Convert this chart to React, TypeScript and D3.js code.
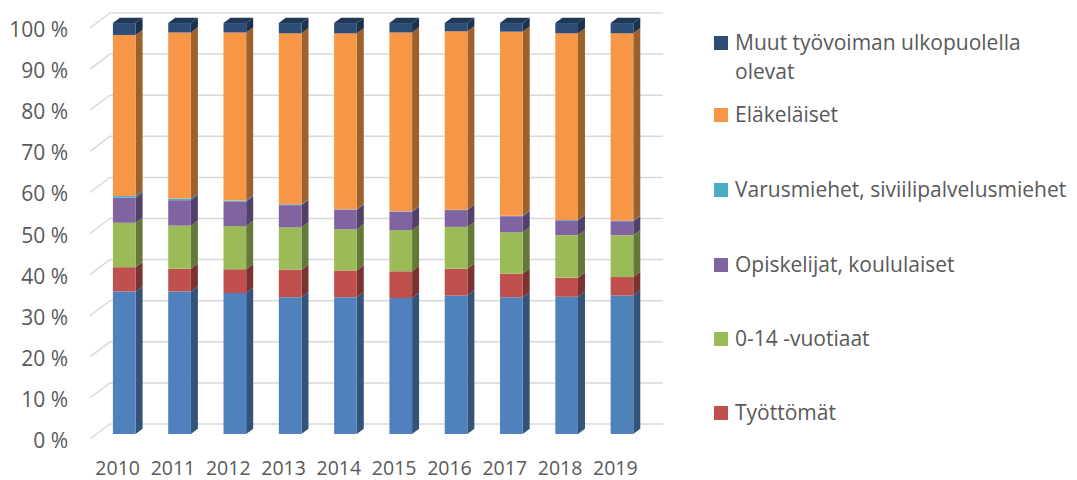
import React from 'react';
import * as d3 from 'd3';

const years = ['2010', '2011', '2012', '2013', '2014', '2015', '2016', '2017', '2018', '2019'];

// osuudet väestöstä, %
const tyolliset = [34.7, 34.7, 34.3, 33.3, 33.3, 33.1, 33.7, 33.3, 33.4, 33.7];
const tyottomat = [5.9, 5.5, 5.8, 6.7, 6.5, 6.5, 6.5, 5.7, 4.6, 4.5];
const vuotiaat = [10.8, 10.5, 10.5, 10.3, 10.0, 10.0, 10.2, 10.1, 10.4, 10.2];
const opiskelijat = [6.1, 6.2, 5.9, 5.4, 4.8, 4.5, 4.1, 3.9, 3.6, 3.4];
const varusmiehet = [0.4, 0.4, 0.3, 0.2, 0.1, 0.1, 0.1, 0.1, 0.1, 0.1];
const elakelaiset = [39.2, 40.4, 40.9, 41.6, 42.8, 43.5, 43.4, 44.8, 45.4, 45.6];
const muut = [2.9, 2.3, 2.3, 2.5, 2.5, 2.3, 2.0, 2.1, 2.5, 2.5];

const yTicks = [0, 10, 20, 30, 40, 50, 60, 70, 80, 90, 100];

const series = [
  { key: 'tyolliset', name: 'Työlliset', values: tyolliset, color: '#4F81BD', legend: false },
  { key: 'tyottomat', name: 'Työttömät', values: tyottomat, color: '#C0504D', legend: true },
  { key: 'vuotiaat', name: '0-14 -vuotiaat', values: vuotiaat, color: '#9BBB59', legend: true },
  { key: 'opiskelijat', name: 'Opiskelijat, koululaiset', values: opiskelijat, color: '#8064A2', legend: true },
  { key: 'varusmiehet', name: 'Varusmiehet, siviilipalvelusmiehet', values: varusmiehet, color: '#4BACC6', legend: true },
  { key: 'elakelaiset', name: 'Eläkeläiset', values: elakelaiset, color: '#F79646', legend: true },
  { key: 'muut', name: 'Muut työvoiman ulkopuolella|olevat', values: muut, color: '#2C4D75', legend: true },
];

const W = 1077;
const H = 480;
const FONT = '"Open Sans", "DejaVu Sans", sans-serif';
const TEXT = '#595959';

// 3D projection: full floor depth
const DX = 20;
const DY = -15;
const D1 = 0.33;
const D2 = 0.68;

const rows = years.map((yr, i) => {
  const r: any = { year: yr };
  series.forEach(s => { r[s.key] = s.values[i]; });
  return r;
});

const App: React.FC = () => {
  const x = d3.scaleBand<string>()
    .domain(years)
    .range([90, 643])
    .paddingInner(0.59)
    .paddingOuter(0.295);

  const y = d3.scaleLinear().domain([0, 100]).range([439, 28]);

  const stacked = d3.stack<any>().keys(series.map(s => s.key))(rows);

  const pt = (px: number, v: number, d: number) => `${px + DX * d},${y(v) + DY * d}`;

  const bars: React.ReactNode[] = [];
  stacked.forEach((layer, si) => {
    const s = series[si];
    const front = s.color;
    const side = d3.rgb(s.color).darker(1.25).formatHex();
    const top = d3.rgb(s.color).darker(0.9).formatHex();
    layer.forEach((seg, i) => {
      const x0 = x(years[i]) as number;
      const x1 = x0 + x.bandwidth();
      const [v0, v1] = seg;
      bars.push(
        <g key={`${s.key}-${i}`}>
          <polygon points={[pt(x1, v0, D1), pt(x1, v0, D2), pt(x1, v1, D2), pt(x1, v1, D1)].join(' ')} fill={side} />
          <polygon points={[pt(x0, v0, D1), pt(x1, v0, D1), pt(x1, v1, D1), pt(x0, v1, D1)].join(' ')} fill={front} />
          {si === series.length - 1 && (
            <polygon points={[pt(x0, v1, D1), pt(x1, v1, D1), pt(x1, v1, D2), pt(x0, v1, D2)].join(' ')} fill={top} />
          )}
        </g>
      );
    });
  });

  const legendItems = series.filter(s => s.legend).reverse();
  const legendY = [50, 122, 197, 272, 346, 420];

  return (
    <div style={{ position: 'absolute', left: 0, top: 0 }}>
      <svg width={W} height={H} style={{ display: 'block', background: '#fff' }}>
        <g fill="none" stroke="#D9D9D9" strokeWidth={1.5}>
          {yTicks.map(t => (
            <polyline key={t} points={`90,${y(t)} 110,${y(t) + DY} 663,${y(t) + DY}`} />
          ))}
        </g>
        <g fontFamily={FONT} fontSize={21} fill={TEXT} textAnchor="end">
          {yTicks.map(t => (
            <text key={t} x={68} y={y(t) + 9}>{`${t} %`}</text>
          ))}
        </g>
        <g>{bars}</g>
        <g fontFamily={FONT} fontSize={19.5} fill={TEXT} textAnchor="middle">
          {years.map(yr => (
            <text key={yr} x={(x(yr) as number) + x.bandwidth() / 2} y={475}>{yr}</text>
          ))}
        </g>
        <g fontFamily={FONT} fontSize={21} fill={TEXT}>
          {legendItems.map((s, i) => {
            const lines = s.name.split('|');
            const by = legendY[i];
            return (
              <g key={s.key}>
                <rect x={714} y={by - 14} width={14} height={14} fill={s.color} />
                {lines.map((ln, li) => (
                  <text key={li} x={735} y={by + li * 29}>{ln}</text>
                ))}
              </g>
            );
          })}
        </g>
      </svg>
    </div>
  );
};

export default App;
